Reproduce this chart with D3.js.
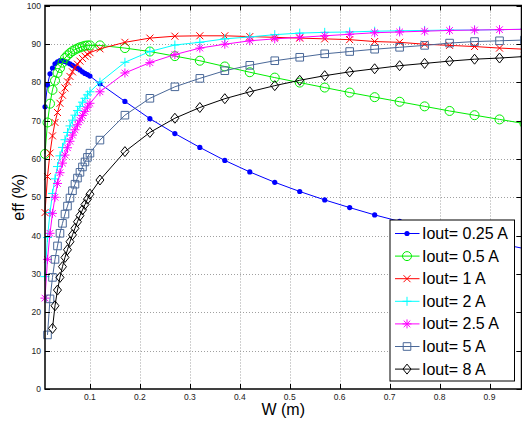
<!DOCTYPE html>
<html><head><meta charset="utf-8">
<script src="https://cdn.jsdelivr.net/npm/d3@7"></script>
<style>body{margin:0;background:#fff}svg{display:block}</style>
</head><body>
<script>
const W = [0.01,0.015,0.02,0.025,0.03,0.035,0.04,0.045,0.05,0.055,0.06,0.065,0.07,0.075,0.08,0.085,0.09,0.095,0.1,
  0.12,0.17,0.22,0.27,0.32,0.37,0.42,0.47,0.52,0.57,0.62,0.67,0.72,0.77,0.82,0.87,0.92,0.97];
const eff025 = [73.6,79.3,82.2,83.7,84.8,85.3,85.6,85.6,85.4,85.1,84.8,84.4,84.0,83.6,83.2,82.7,82.3,82.0,81.6,
  79.6,75.0,70.5,66.6,63.0,59.6,56.6,53.9,51.5,49.3,47.3,45.4,43.7,42.1,40.6,39.2,37.9,36.6];
const eff05 = [61.3,69.5,74.4,78.0,80.4,82.4,83.7,85.1,86.3,87.0,87.6,88.1,88.5,88.8,89.1,89.3,89.5,89.6,89.6,
  89.6,88.9,88.0,86.8,85.6,84.1,82.6,81.2,79.9,78.6,77.3,76.1,74.9,73.7,72.5,71.4,70.3,69.2];
const eff1 = [46.0,55.4,61.5,66.0,69.5,72.1,74.5,76.6,78.5,80.1,81.5,82.7,83.8,84.7,85.5,86.2,86.8,87.3,87.7,
  88.7,90.4,91.5,92.0,92.1,92.1,91.9,91.7,91.5,91.3,91.1,90.6,90.4,89.9,89.6,89.3,88.9,88.6];
const eff2 = [29.3,39.5,46.0,51.0,54.8,58.0,60.8,63.0,65.0,66.9,68.6,70.1,71.4,72.6,73.7,74.8,75.8,76.7,77.5,
  80.0,85.2,88.0,89.7,90.4,91.3,91.8,92.4,92.8,93.0,93.1,93.3,93.4,93.5,93.6,93.6,93.7,93.8];
const eff25 = [23.7,33.8,40.6,45.8,50.0,53.6,56.4,58.9,61.0,62.9,64.6,66.2,67.6,68.9,70.1,71.3,72.4,73.5,74.5,
  77.5,82.4,85.1,87.2,88.9,89.9,90.8,91.3,91.7,92.1,92.5,92.9,93.1,93.3,93.5,93.6,93.7,93.8];
const eff5 = [null,14.1,23.5,29.1,33.8,37.3,40.6,43.2,45.6,47.7,49.8,51.7,53.4,55.0,56.5,57.9,59.2,60.4,61.5,
  64.9,71.4,75.8,78.8,81.0,83.0,84.4,85.6,86.5,87.4,88.0,88.6,89.1,89.6,90.2,90.6,90.8,91.0];
const eff8 = [null,null,null,15.8,21.7,25.8,29.1,31.9,34.3,36.3,38.4,40.2,41.9,43.6,45.2,46.7,48.1,49.5,50.8,
  54.5,61.9,66.9,70.6,73.4,75.7,77.5,79.1,80.5,81.7,82.7,83.5,84.3,84.9,85.5,86.0,86.3,86.7];
const legendLabels = ["Iout= 0.25 A","Iout= 0.5 A","Iout= 1 A","Iout= 2 A","Iout= 2.5 A","Iout= 5 A","Iout= 8 A"];
const xTicks = [0.1,0.2,0.3,0.4,0.5,0.6,0.7,0.8,0.9];
const yTicks = [0,10,20,30,40,50,60,70,80,90,100];

const seriesVals = [eff025, eff05, eff1, eff2, eff25, eff5, eff8];
const colors = ["#0000ff","#00ee00","#ff0000","#00ffff","#ff00ff","#4a6898","#000000"];
const markers = ["dot","circle","x","plus","star","square","diamond"];

const width = 522, height = 423;
const L = 45, R = 521.5, T = 5.5, B = 389;
const x = d3.scaleLinear().domain([0.01, 0.964]).range([L, R]);
const y = d3.scaleLinear().domain([0, 100]).range([B, T]);

const svg = d3.select("body").append("svg").attr("width", width).attr("height", height)
  .style("font-family", "'Liberation Sans', Arial, sans-serif");
svg.append("rect").attr("width", width).attr("height", height).attr("fill", "#fff");

// grid
const grid = svg.append("g").attr("stroke", "#a0a0a0").attr("stroke-width", 1).attr("stroke-dasharray", "1,2");
grid.selectAll(".gx").data(xTicks).join("line")
  .attr("x1", d => Math.round(x(d)) + 0.5).attr("x2", d => Math.round(x(d)) + 0.5).attr("y1", T).attr("y2", B);
grid.selectAll(".gy").data(yTicks.filter(d => d > 0 && d < 100)).join("line")
  .attr("y1", d => Math.round(y(d)) + 0.5).attr("y2", d => Math.round(y(d)) + 0.5).attr("x1", L).attr("x2", R);

function markerPath(type) {
  switch (type) {
    case "x": return "M-3.5,-3.5L3.5,3.5M-3.5,3.5L3.5,-3.5";
    case "plus": return "M-4.5,0H4.5M0,-4.5V4.5";
    case "star": return "M-4.5,0H4.5M0,-4.5V4.5M-3.3,-3.3L3.3,3.3M-3.3,3.3L3.3,-3.3";
    case "square": return "M-3.8,-3.8H3.8V3.8H-3.8Z";
    case "diamond": return "M0,-5L4,0L0,5L-4,0Z";
  }
}
function drawMarker(g, type, color, cx, cy) {
  if (type === "dot") {
    g.append("circle").attr("cx", cx).attr("cy", cy).attr("r", 2.6).attr("fill", color);
  } else if (type === "circle") {
    g.append("circle").attr("cx", cx).attr("cy", cy).attr("r", 4.5).attr("fill", "none")
      .attr("stroke", color).attr("stroke-width", 1);
  } else {
    g.append("path").attr("d", markerPath(type)).attr("transform", `translate(${cx},${cy})`)
      .attr("fill", "none").attr("stroke", color).attr("stroke-width", 1);
  }
}

const line = d3.line().defined(d => d[1] != null).x(d => x(d[0])).y(d => y(d[1]));
const plotG = svg.append("g");
seriesVals.forEach((vals, i) => {
  const pts = W.map((w, j) => [w, vals[j]]);
  const g = plotG.append("g");
  g.append("path").attr("d", line(pts)).attr("fill", "none").attr("stroke", colors[i]).attr("stroke-width", 1);
  pts.filter(p => p[1] != null).forEach(p => drawMarker(g, markers[i], colors[i], x(p[0]), y(p[1])));
});

// axes box
const ax = svg.append("g").attr("stroke", "#000").attr("stroke-width", 1.5).attr("fill", "none");
ax.append("rect").attr("x", L).attr("y", T).attr("width", R - L).attr("height", B - T);
const tk = 5;
xTicks.forEach(t => {
  const px = Math.round(x(t)) + 0.5;
  ax.append("line").attr("x1", px).attr("x2", px).attr("y1", B).attr("y2", B - tk).attr("stroke-width", 1);
  ax.append("line").attr("x1", px).attr("x2", px).attr("y1", T).attr("y2", T + tk).attr("stroke-width", 1);
});
yTicks.forEach(t => {
  const py = Math.round(y(t)) + 0.5;
  ax.append("line").attr("y1", py).attr("y2", py).attr("x1", L).attr("x2", L + tk).attr("stroke-width", 1);
  ax.append("line").attr("y1", py).attr("y2", py).attr("x1", R).attr("x2", R - tk).attr("stroke-width", 1);
});

// tick labels
svg.append("g").selectAll("text").data(xTicks).join("text")
  .attr("x", d => x(d)).attr("y", 400).attr("text-anchor", "middle")
  .attr("font-size", 8.5).attr("fill", "#222").text(d => d3.format(".1f")(d));
svg.append("g").selectAll("text").data(yTicks).join("text")
  .attr("x", 41).attr("y", d => y(d) + 3).attr("text-anchor", "end")
  .attr("font-size", 8.5).attr("fill", "#222").text(d => d);

// axis labels
svg.append("text").attr("x", (L + R) / 2).attr("y", 415).attr("text-anchor", "middle")
  .attr("font-size", 16).attr("fill", "#000").text("W (m)");
svg.append("text").attr("transform", `translate(24,${(T + B) / 2}) rotate(-90)`).attr("text-anchor", "middle")
  .attr("font-size", 16).attr("fill", "#000").text("eff (%)");

// legend
const lg = svg.append("g");
const lx = 390, ly = 220, lw = 124.5, lh = 161;
lg.append("rect").attr("x", lx).attr("y", ly).attr("width", lw).attr("height", lh)
  .attr("fill", "#fff").attr("stroke", "#000").attr("stroke-width", 1);
legendLabels.forEach((lab, i) => {
  const ry = 233.5 + i * 22.6;
  lg.append("line").attr("x1", 395).attr("x2", 419.5).attr("y1", ry).attr("y2", ry)
    .attr("stroke", colors[i]).attr("stroke-width", 1);
  drawMarker(lg, markers[i], colors[i], 407, ry);
  lg.append("text").attr("x", 422).attr("y", ry + 5.5).attr("font-size", 16).attr("fill", "#000").text(lab);
});
</script>
</body></html>
